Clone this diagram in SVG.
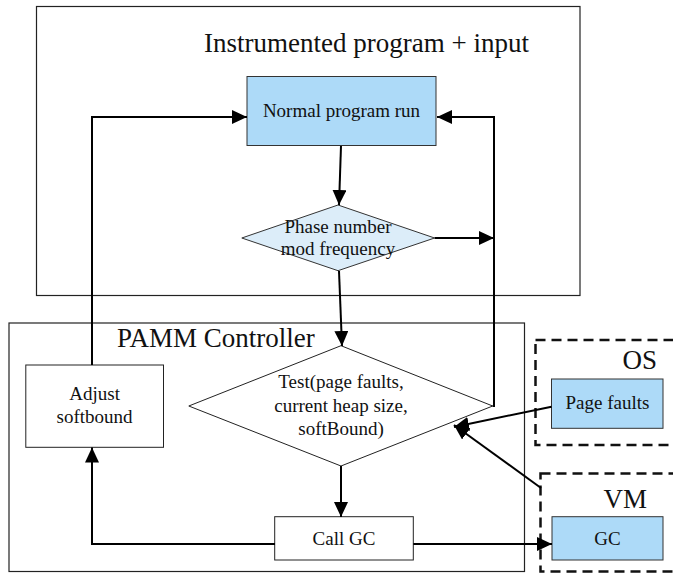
<svg xmlns="http://www.w3.org/2000/svg" width="673" height="573" viewBox="0 0 673 573" font-family="'Liberation Serif', 'DejaVu Serif', serif">
<style>
text{font-family:"Liberation Serif","DejaVu Serif",serif;fill:#111}
.lbl{font-size:19px;text-anchor:middle}
.ttl{font-size:27px}
.frame{fill:#fff;stroke:#222;stroke-width:1.2}
.box{fill:#fff;stroke:#222;stroke-width:1}
.blue{fill:#addaf8;stroke:#333;stroke-width:1}
.lblue{fill:#dcedf9;stroke:#333;stroke-width:1}
.dash{fill:none;stroke:#111;stroke-width:2.5;stroke-dasharray:10 6}
.conn path{fill:none;stroke:#000;stroke-width:2;marker-end:url(#ah)}
</style>
<defs>
<marker id="ah" markerUnits="userSpaceOnUse" markerWidth="16" markerHeight="15" refX="15" refY="7" orient="auto"><path d="M0,0 L15,7 L0,14 z" fill="#000"/></marker>
</defs>
<rect width="673" height="573" fill="#fff"/>
<g id="program-frame">
<rect class="frame" x="36.5" y="6.5" width="543.5" height="289"/>
<text class="ttl" x="204" y="52">Instrumented program + input</text>
</g>
<g id="pamm-frame">
<rect class="frame" x="9" y="323" width="515.5" height="248.5"/>
<text class="ttl" x="117" y="347">PAMM Controller</text>
</g>
<g id="os-frame">
<rect class="dash" x="535.5" y="340" width="142" height="105"/>
<text class="ttl" x="657" y="369" text-anchor="end">OS</text>
</g>
<g id="vm-frame">
<rect class="dash" x="540.5" y="473.5" width="137" height="98"/>
<text class="ttl" x="647" y="508" text-anchor="end">VM</text>
</g>
<g id="normal-run">
<rect class="blue" x="247" y="76.5" width="189" height="69"/>
<text class="lbl" x="341.5" y="117">Normal program run</text>
</g>
<g id="phase-test">
<polygon class="lblue" points="338,205 434.6,238 338,270.7 241.8,238"/>
<text class="lbl" x="338" y="233">Phase number</text>
<text class="lbl" x="338" y="255">mod frequency</text>
</g>
<g id="test">
<polygon class="box" points="341,345.7 492.7,406 341,466 188.8,406"/>
<text class="lbl" x="341" y="388">Test(page faults,</text>
<text class="lbl" x="341" y="411.5">current heap size,</text>
<text class="lbl" x="341" y="435">softBound)</text>
</g>
<g id="adjust">
<rect class="box" x="25.8" y="365" width="137.7" height="82.3"/>
<text class="lbl" x="94.6" y="400">Adjust</text>
<text class="lbl" x="94.6" y="423">softbound</text>
</g>
<g id="call-gc">
<rect class="box" x="274.7" y="516.7" width="138.6" height="43.3"/>
<text class="lbl" x="344" y="545">Call GC</text>
</g>
<g id="page-faults">
<rect class="blue" x="551.5" y="379" width="111.5" height="49.3"/>
<text class="lbl" x="607.5" y="408.5">Page faults</text>
</g>
<g id="gc">
<rect class="blue" x="552" y="516.7" width="111" height="43.3"/>
<text class="lbl" x="607.5" y="545">GC</text>
</g>
<g id="connectors" class="conn">
<path d="M341,146 L339,205"/>
<path d="M434.6,238 H494"/>
<path d="M492.7,406 H494 V117 H437"/>
<path d="M92,365 V117 H247"/>
<path d="M339,271 L342,346"/>
<path d="M341,466 V517"/>
<path d="M275,544 H92 V447.5"/>
<path d="M413.3,544 H552"/>
<path d="M551.5,406.7 L454,427"/>
<path d="M541,488 L454,425"/>
</g>
</svg>
